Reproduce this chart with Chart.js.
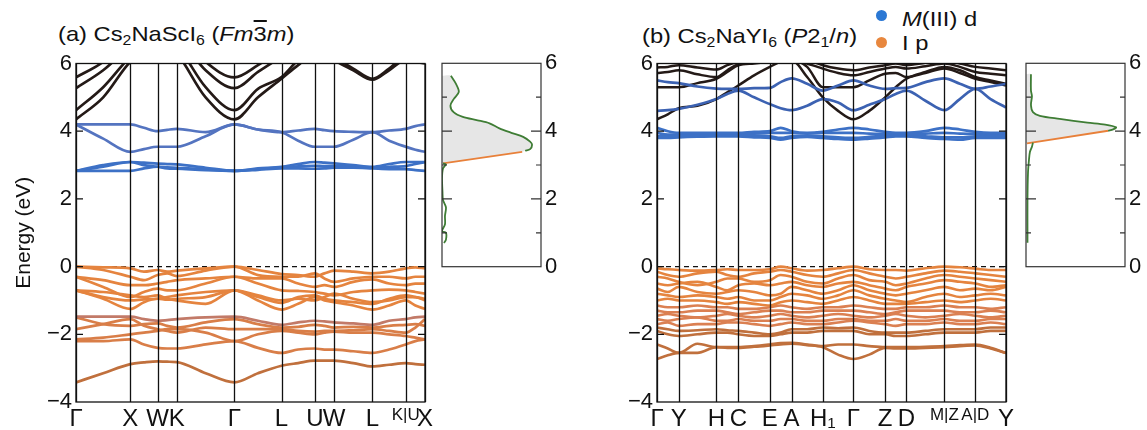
<!DOCTYPE html>
<html>
<head>
<meta charset="utf-8">
<script src="https://cdn.jsdelivr.net/npm/chart.js@4.4.0/dist/chart.umd.min.js"></script>
<style>
  body { margin: 0; background: #fff; width: 1147px; height: 430px; position: relative; overflow: hidden;
         font-family: "Liberation Sans", Arial, sans-serif; color: #111; }
  canvas { position: absolute; top: 0; }
  .t { position: absolute; font-size: 21px; line-height: 1; white-space: nowrap;
       transform-origin: 0 50%; transform: scaleX(1.13); }
  .t sub { font-size: 14px; vertical-align: -0.3em; line-height: 0; }
  .ob { text-decoration: overline; }
  .dot { position: absolute; width: 11px; height: 11px; border-radius: 50%; }
</style>
</head>
<body>
<div class="t" style="left:58px;top:23px">(a) Cs<sub>2</sub>NaScI<sub>6</sub> (<i>Fm</i><span class="ob">3</span><i>m</i>)</div>
<div class="t" style="left:642px;top:25px">(b) Cs<sub>2</sub>NaYI<sub>6</sub> (<i>P</i>2<sub>1</sub>/<i>n</i>)</div>
<div class="dot" style="left:876px;top:10px;background:#2b78d4"></div>
<div class="t" style="left:902px;top:8px"><i>M</i>(III) d</div>
<div class="dot" style="left:876px;top:37px;background:#e8873e"></div>
<div class="t" style="left:902px;top:32px">I p</div>

<canvas id="bandA" width="440" height="430" style="left:0px"></canvas>
<canvas id="dosA" width="126" height="430" style="left:437px"></canvas>
<canvas id="bandB" width="440" height="430" style="left:581px"></canvas>
<canvas id="dosB" width="126" height="430" style="left:1021px"></canvas>

<script>
// ---------- (a) Cs2NaScI6 : k-path and bands ----------
const kA = [0, 0.5, 1.0, 1.25, 1.5, 1.677, 1.854, 2.384, 2.914, 3.347, 3.78, 4.086, 4.392, 4.569, 4.746, 5.1, 5.453, 5.759, 6.065, 6.242, 6.419];
const kTicksA = [0, 1.0, 1.5, 1.854, 2.914, 3.78, 4.392, 4.746, 5.453, 6.065, 6.419];
const kLabelsA = ['Γ', 'X', 'W', 'K', 'Γ', 'L', 'U', 'W', 'L', 'K|U', 'X'];

const blackA = [
  [4.35, 5.0, 6.05, 6.3, 6.5, 6.5, 6.3, 5.0, 4.35, 5.0, 5.55, 5.95, 6.3, 6.3, 6.1, 5.8, 5.52, 5.8, 6.1, 6.05, 6.0],
  [4.62, 5.3, 6.2, 6.5, 6.6, 6.6, 6.5, 5.3, 4.62, 5.25, 5.6, 6.1, 6.4, 6.4, 6.2, 5.85, 5.55, 5.85, 6.2, 6.15, 6.1],
  [5.27, 5.8, 6.5, 6.7, 6.9, 6.9, 6.8, 5.8, 5.27, 5.75, 6.2, 6.5, 6.7, 6.7, 6.6, 6.3, 6.1, 6.3, 6.5, 6.5, 6.5],
  [5.59, 6.05, 6.8, 7.0, 7.0, 7.0, 7.0, 6.05, 5.59, 5.95, 6.4, 6.7, 7.0, 7.0, 6.8, 6.5, 6.3, 6.5, 6.8, 6.8, 6.8]
];
const blueUpperA = [
  [4.20, 4.20, 4.20, 4.10, 4.00, 4.04, 4.07, 3.97, 4.20, 4.05, 3.97, 4.02, 4.07, 4.03, 4.00, 3.98, 3.97, 4.02, 4.07, 4.15, 4.20],
  [4.20, 3.78, 3.39, 3.47, 3.54, 3.54, 3.54, 3.85, 4.20, 4.05, 3.97, 3.72, 3.54, 3.54, 3.54, 3.75, 3.97, 3.72, 3.54, 3.45, 3.39]
];
const blueLowerA = [
  [2.83, 3.0, 3.09, 3.07, 3.04, 3.03, 3.02, 2.92, 2.83, 2.9, 2.95, 3.03, 3.09, 3.07, 3.05, 3.0, 2.95, 3.03, 3.09, 3.09, 3.09],
  [2.83, 2.83, 2.83, 2.9, 2.95, 2.93, 2.92, 2.87, 2.83, 2.86, 2.9, 2.9, 2.89, 2.9, 2.92, 2.92, 2.9, 2.88, 2.88, 2.85, 2.83],
  [2.83, 2.95, 3.09, 3.0, 2.95, 2.9, 2.89, 2.85, 2.83, 2.88, 2.93, 2.96, 2.98, 2.97, 2.97, 2.95, 2.93, 2.95, 2.97, 3.03, 3.09]
];
const valenceTopA = [
  [0, -0.02, -0.05, -0.15, -0.1, -0.15, -0.12, -0.05, 0, -0.1, -0.22, -0.25, -0.3, -0.2, -0.12, -0.15, -0.2, -0.15, -0.05, -0.02, -0.05],
  [0, -0.1, -0.3, -0.4, -0.25, -0.2, -0.28, -0.12, 0, -0.25, -0.3, -0.3, -0.2, -0.35, -0.45, -0.35, -0.3, -0.3, -0.35, -0.3, -0.3],
  [-0.3, -0.4, -0.55, -0.55, -0.5, -0.45, -0.4, -0.35, -0.3, -0.35, -0.35, -0.5, -0.6, -0.55, -0.6, -0.45, -0.38, -0.5, -0.55, -0.5, -0.5],
  [-0.3, -0.6, -0.9, -0.75, -0.65, -0.7, -0.7, -0.5, -0.3, -0.5, -0.7, -0.72, -0.75, -0.8, -0.85, -0.75, -0.7, -0.68, -0.7, -0.75, -0.8],
  [-0.7, -0.75, -0.85, -0.9, -0.85, -0.95, -1.0, -1.1, -0.7, -0.9, -1.07, -0.9, -0.85, -0.95, -1.0, -1.05, -1.1, -0.95, -0.85, -0.9, -0.95],
  [-0.7, -0.95, -1.25, -1.05, -0.95, -0.98, -0.95, -0.9, -0.7, -1.0, -1.27, -1.1, -0.9, -1.0, -1.05, -1.15, -1.27, -1.15, -1.0, -1.15, -1.25],
  [-0.7, -0.9, -1.0, -0.97, -0.95, -0.9, -0.85, -0.75, -0.7, -0.85, -1.0, -0.95, -1.0, -0.9, -0.8, -0.95, -1.05, -1.0, -0.9, -0.9, -1.0]
];
const valenceMidA = [
  [-1.48, -1.48, -1.48, -1.55, -1.6, -1.58, -1.55, -1.5, -1.48, -1.6, -1.72, -1.65, -1.6, -1.62, -1.65, -1.68, -1.72, -1.6, -1.55, -1.5, -1.48],
  [-1.5, -1.7, -1.75, -1.7, -1.68, -1.75, -1.8, -1.65, -1.55, -1.7, -1.8, -1.78, -1.72, -1.75, -1.8, -1.78, -1.8, -1.75, -1.72, -1.7, -1.75],
  [-1.85, -1.7, -1.55, -1.75, -1.85, -1.9, -1.95, -1.8, -1.85, -1.85, -1.85, -1.9, -1.92, -1.9, -1.9, -1.88, -1.85, -1.9, -1.95, -1.8, -1.55],
  [-2.15, -2.1, -2.0, -1.95, -1.9, -1.85, -1.85, -1.95, -2.2, -2.0, -1.9, -1.95, -2.0, -1.95, -1.92, -1.95, -1.95, -2.0, -2.05, -2.1, -2.15],
  [-2.2, -2.2, -2.15, -2.3, -2.4, -2.42, -2.42, -2.3, -2.2, -2.4, -2.55, -2.45, -2.42, -2.45, -2.45, -2.5, -2.55, -2.45, -2.3, -2.2, -2.15]
];
const valenceLowA = [
  [-3.42, -3.15, -2.88, -2.83, -2.8, -2.81, -2.82, -3.15, -3.42, -3.15, -2.93, -2.85, -2.78, -2.78, -2.78, -2.85, -2.95, -2.9, -2.85, -2.88, -2.9]
];

// ---------- (b) Cs2NaYI6 : k-path and bands ----------
const kB = [0, 0.108, 0.217, 0.405, 0.594, 0.704, 0.814, 0.972, 1.13, 1.238, 1.347, 1.503, 1.66, 1.813, 1.967, 2.125, 2.284, 2.39, 2.497, 2.687, 2.877, 3.032, 3.187, 3.34, 3.494];
const kTicksB = [0, 0.217, 0.594, 0.814, 1.13, 1.347, 1.66, 1.967, 2.284, 2.497, 2.877, 3.187, 3.494];
const kLabelsB = ['Γ', 'Y', 'H', 'C', 'E', 'A', 'H₁', 'Γ', 'Z', 'D', 'M|Z', 'A|D', 'Y'];

const blackB = [
  [4.35, 4.5, 4.68, 4.75, 4.95, 5.15, 5.35, 5.65, 5.9, 6.05, 6.1, 5.6, 5.0, 4.6, 4.35, 4.6, 5.0, 5.3, 5.55, 5.75, 5.9, 5.8, 5.6, 5.5, 5.4],
  [5.3, 5.3, 5.3, 5.42, 5.55, 5.75, 5.95, 6.0, 6.05, 6.1, 6.1, 5.9, 5.3, 5.3, 5.3, 5.5, 5.7, 5.72, 5.6, 5.72, 5.85, 5.72, 5.55, 5.45, 5.35],
  [5.72, 5.75, 5.8, 5.68, 5.6, 5.8, 5.98, 6.05, 6.1, 6.15, 6.15, 6.0, 5.85, 5.72, 5.65, 5.75, 5.85, 5.9, 5.85, 5.92, 6.0, 5.9, 5.75, 5.7, 5.65],
  [5.88, 5.9, 5.95, 5.88, 5.82, 5.95, 6.05, 6.15, 6.2, 6.2, 6.2, 6.1, 5.95, 5.85, 5.8, 5.88, 5.95, 6.0, 5.95, 6.02, 6.08, 6.0, 5.9, 5.85, 5.8]
];
const blueUpperB = [
  [5.5, 5.45, 5.42, 5.32, 5.26, 5.25, 5.25, 5.27, 5.28, 5.45, 5.56, 5.4, 5.2, 5.35, 5.5, 5.35, 5.25, 5.27, 5.28, 5.45, 5.56, 5.4, 5.25, 5.32, 5.4],
  [4.6, 4.62, 4.66, 4.78, 4.95, 5.1, 5.2, 5.0, 4.8, 4.68, 4.62, 4.75, 4.95, 4.85, 4.62, 4.78, 4.95, 5.1, 5.2, 4.9, 4.62, 4.95, 5.25, 4.95, 4.7]
];
const blueFlatB = [
  [4.1, 4.0, 3.95, 3.95, 3.95, 3.95, 3.95, 3.98, 4.0, 4.1, 4.0, 3.95, 3.98, 4.05, 4.1, 4.05, 3.98, 3.95, 3.95, 4.0, 4.1, 4.05, 3.98, 3.95, 3.95],
  [3.95, 3.9, 3.9, 3.9, 3.92, 3.93, 3.93, 3.93, 3.95, 3.95, 3.95, 3.93, 3.95, 3.95, 3.95, 3.93, 3.92, 3.92, 3.92, 3.93, 3.95, 3.93, 3.92, 3.9, 3.9],
  [3.85, 3.85, 3.87, 3.88, 3.88, 3.88, 3.88, 3.87, 3.85, 3.8, 3.85, 3.87, 3.85, 3.82, 3.8, 3.83, 3.87, 3.88, 3.88, 3.85, 3.82, 3.82, 3.85, 3.85, 3.85],
  [3.8, 3.8, 3.82, 3.84, 3.85, 3.85, 3.85, 3.82, 3.8, 3.75, 3.8, 3.83, 3.8, 3.77, 3.75, 3.78, 3.82, 3.85, 3.85, 3.8, 3.77, 3.75, 3.8, 3.8, 3.8]
];
const valenceTopB = [
  [-0.05, -0.08, -0.1, -0.12, -0.1, -0.08, -0.1, -0.1, -0.08, 0.0, -0.05, -0.12, -0.1, -0.05, 0.0, -0.08, -0.1, -0.1, -0.12, -0.05, 0.0, -0.02, -0.06, -0.1, -0.1],
  [-0.15, -0.25, -0.3, -0.2, -0.15, -0.25, -0.3, -0.2, -0.15, -0.1, -0.15, -0.25, -0.3, -0.2, -0.1, -0.2, -0.3, -0.35, -0.3, -0.2, -0.12, -0.15, -0.2, -0.25, -0.3],
  [-0.3, -0.35, -0.45, -0.55, -0.45, -0.35, -0.35, -0.45, -0.4, -0.25, -0.3, -0.45, -0.5, -0.35, -0.25, -0.4, -0.45, -0.55, -0.5, -0.35, -0.25, -0.3, -0.35, -0.4, -0.45],
  [-0.5, -0.55, -0.5, -0.45, -0.6, -0.7, -0.55, -0.5, -0.55, -0.5, -0.45, -0.55, -0.6, -0.5, -0.45, -0.55, -0.65, -0.7, -0.6, -0.5, -0.4, -0.45, -0.5, -0.6, -0.55],
  [-0.65, -0.75, -0.6, -0.75, -0.8, -0.75, -0.7, -0.75, -0.85, -0.8, -0.6, -0.7, -0.8, -0.7, -0.55, -0.7, -0.8, -0.85, -0.8, -0.7, -0.6, -0.7, -0.65, -0.7, -0.6],
  [-0.8, -0.85, -0.9, -0.85, -0.9, -0.95, -0.9, -1.0, -1.0, -0.9, -0.8, -0.85, -0.95, -0.85, -0.7, -0.85, -0.95, -1.0, -1.05, -0.9, -0.8, -0.9, -0.85, -0.8, -0.85],
  [-1.0, -0.95, -1.0, -1.0, -1.05, -1.1, -1.05, -1.1, -1.15, -1.05, -1.0, -1.05, -1.1, -1.0, -0.9, -1.0, -1.1, -1.1, -1.1, -1.05, -1.0, -1.05, -1.0, -0.95, -1.0]
];
const valenceMidB = [
  [-1.15, -1.2, -1.2, -1.15, -1.2, -1.2, -1.25, -1.25, -1.2, -1.15, -1.2, -1.25, -1.2, -1.2, -1.15, -1.2, -1.25, -1.25, -1.2, -1.2, -1.15, -1.2, -1.2, -1.25, -1.2],
  [-1.3, -1.35, -1.35, -1.3, -1.3, -1.35, -1.4, -1.35, -1.3, -1.3, -1.35, -1.35, -1.3, -1.3, -1.3, -1.35, -1.4, -1.35, -1.3, -1.3, -1.3, -1.35, -1.35, -1.3, -1.35],
  [-1.45, -1.4, -1.45, -1.5, -1.45, -1.4, -1.45, -1.5, -1.45, -1.4, -1.45, -1.5, -1.45, -1.4, -1.45, -1.5, -1.45, -1.4, -1.45, -1.5, -1.45, -1.4, -1.45, -1.5, -1.45],
  [-1.55, -1.6, -1.55, -1.5, -1.6, -1.6, -1.55, -1.6, -1.6, -1.55, -1.55, -1.6, -1.6, -1.55, -1.55, -1.6, -1.6, -1.55, -1.6, -1.6, -1.55, -1.6, -1.6, -1.55, -1.55],
  [-1.7, -1.65, -1.75, -1.7, -1.7, -1.65, -1.65, -1.7, -1.75, -1.7, -1.65, -1.7, -1.7, -1.65, -1.6, -1.65, -1.7, -1.75, -1.7, -1.7, -1.65, -1.7, -1.7, -1.65, -1.7]
];
const valenceLowB = [
  [-1.8, -1.85, -1.9, -1.88, -1.85, -1.88, -1.9, -1.95, -2.0, -1.95, -1.85, -1.85, -1.8, -1.82, -1.8, -1.9, -1.95, -1.95, -1.95, -1.9, -1.85, -1.85, -1.85, -1.8, -1.8],
  [-1.9, -2.0, -2.05, -2.0, -1.95, -1.95, -2.0, -2.05, -2.05, -2.0, -1.95, -1.95, -1.9, -1.9, -1.9, -2.0, -2.0, -2.05, -2.05, -2.0, -1.95, -1.95, -1.95, -1.9, -1.9],
  [-2.3, -2.42, -2.55, -2.28, -2.38, -2.38, -2.38, -2.35, -2.3, -2.26, -2.25, -2.3, -2.35, -2.3, -2.3, -2.35, -2.38, -2.38, -2.38, -2.37, -2.35, -2.32, -2.3, -2.4, -2.55],
  [-2.73, -2.62, -2.55, -2.55, -2.38, -2.4, -2.4, -2.37, -2.33, -2.3, -2.28, -2.32, -2.38, -2.6, -2.73, -2.6, -2.4, -2.42, -2.42, -2.4, -2.38, -2.35, -2.33, -2.42, -2.55]
];

// ---------- DOS panels (x = DOS, arbitrary units; y = energy) ----------
const dosA_hiDos = [0.09, 0.14, 0.17, 0.12, 0.085, 0.12, 0.21, 0.36, 0.48, 0.58, 0.70, 0.82, 0.89, 0.91, 0.89, 0.84];
const dosA_hiE   = [5.63, 5.40, 5.16, 4.95, 4.75, 4.55, 4.42, 4.32, 4.23, 4.08, 3.95, 3.83, 3.69, 3.60, 3.47, 3.42];
const dosA_orDos = [0.81, 0.01];
const dosA_orE   = [3.39, 3.05];
const dosA_loDos = [0.01, 0.04, 0.01, 0.0, 0.005, 0.01, 0.04, 0.03, 0.03, 0.0, 0.04, 0.04, 0.02];
const dosA_loE   = [3.05, 3.02, 2.9, 2.6, 2.2, 1.97, 1.75, 1.5, 1.25, 1.05, 1.0, 0.8, 0.7];

const dosB_hiDos = [0.05, 0.05, 0.06, 0.05, 0.07, 0.14, 0.34, 0.62, 0.80, 0.91, 0.88, 0.83];
const dosB_hiE   = [5.68, 5.2, 5.03, 4.77, 4.56, 4.45, 4.36, 4.25, 4.19, 4.11, 4.05, 4.01];
const dosB_orDos = [0.83, 0.01];
const dosB_orE   = [4.01, 3.64];
const dosB_loDos = [0.07, 0.06, 0.04, 0.03, 0.02, 0.015, 0.015, 0.015];
const dosB_loE   = [3.66, 3.54, 3.39, 3.15, 2.76, 1.97, 0.99, 0.71];

const FONT = '"Liberation Sans", Arial, sans-serif';

// frame, inward ticks and high-symmetry lines, all placed through the chart scales
const framePlugin = {
  id: 'frame',
  afterDatasetsDraw(chart, args, opts) {
    const { ctx, chartArea: a, scales } = chart;
    ctx.save();
    ctx.strokeStyle = opts.color;
    ctx.lineWidth = opts.lineWidth;
    ctx.beginPath();
    (opts.vlines || []).forEach(v => {
      const x = Math.round(scales.x.getPixelForValue(v)) + 0.5;
      ctx.moveTo(x, a.top); ctx.lineTo(x, a.bottom);
    });
    const tick = (list, len) => (list || []).forEach(v => {
      const y = scales.y.getPixelForValue(v);
      ctx.moveTo(a.left, y); ctx.lineTo(a.left + len, y);
      ctx.moveTo(a.right, y); ctx.lineTo(a.right - len, y);
    });
    tick(opts.major, opts.majorLen);
    tick(opts.minor, opts.minorLen);
    ctx.stroke();
    ctx.strokeRect(a.left, a.top, a.right - a.left, a.bottom - a.top);
    ctx.restore();
  }
};

function bandSet(k, e, color, w) {
  return {
    data: k.map((x, i) => ({ x: x, y: e[i] })),
    borderColor: color, borderWidth: w || 2.7, pointRadius: 0,
    cubicInterpolationMode: 'monotone', fill: false, clip: 0
  };
}

function zeroLine(k) {
  return {
    data: [{ x: k[0], y: 0 }, { x: k[k.length - 1], y: 0 }],
    borderColor: '#111', borderWidth: 1.3, borderDash: [5, 4], pointRadius: 0, fill: false
  };
}

function minusFmt(v) { return v < 0 ? '\u2212' + (-v) : '' + v; }

function bandChart(id, k, ticks, labels, datasets, yTitle) {
  new Chart(document.getElementById(id), {
    type: 'line',
    data: { datasets: datasets },
    plugins: [framePlugin],
    options: {
      responsive: false, animation: false, events: [],
      layout: { padding: { top: 63.5, right: 15, left: 0, bottom: 0 } },
      plugins: {
        legend: { display: false }, tooltip: { enabled: false },
        frame: { color: '#111', lineWidth: 1.3, vlines: ticks, major: [-2, 0, 2, 4], majorLen: 7 }
      },
      scales: {
        x: {
          type: 'linear', min: k[0], max: k[k.length - 1],
          afterBuildTicks: s => { s.ticks = ticks.map(v => ({ value: v })); },
          afterFit: s => { s.height = 28; },
          grid: { display: false, drawTicks: false }, border: { display: false },
          ticks: {
            autoSkip: false, maxRotation: 0, padding: 3, color: '#111',
            font: ctx => ({ family: FONT, size: String(labels[ctx.index] || '').includes('|') ? 17 : 24 }),
            callback: (v, i) => labels[i]
          }
        },
        y: {
          min: -4, max: 6,
          afterFit: s => { s.width = 76; },
          grid: { display: false, drawTicks: false }, border: { display: false },
          ticks: { stepSize: 2, padding: 4, color: '#111', font: { family: FONT, size: 22 }, callback: minusFmt },
          title: { display: !!yTitle, text: yTitle || '', color: '#111', font: { family: FONT, size: 21 }, padding: { top: 12, bottom: 0 } }
        }
      }
    }
  });
}

function pts(xs, ys) { return xs.map((x, i) => ({ x: x, y: ys[i] })); }

function dosChart(id, hiDos, hiE, orDos, orE, loDos, loE) {
  const hi = pts(hiDos, hiE), or = pts(orDos, orE), lo = pts(loDos, loE);
  const shape = [{ x: 0, y: hiE[0] }].concat(hi, or, [{ x: 0, y: orE[orE.length - 1] }]);
  new Chart(document.getElementById(id), {
    type: 'line',
    data: {
      datasets: [
        { data: hi, borderColor: '#3f7d35', borderWidth: 1.8, pointRadius: 0, tension: 0.3, fill: false },
        { data: lo, borderColor: '#3f7d35', borderWidth: 1.8, pointRadius: 0, tension: 0.3, fill: false },
        { data: or, borderColor: '#e8803a', borderWidth: 1.8, pointRadius: 0, fill: false },
        { data: shape, borderWidth: 0, borderColor: 'rgba(0,0,0,0)', backgroundColor: '#e6e6e6', pointRadius: 0, tension: 0.3, fill: 'shape' }
      ]
    },
    plugins: [framePlugin],
    options: {
      responsive: false, animation: false, events: [],
      layout: { padding: { top: 63.3, bottom: 163.3, left: 5, right: 0 } },
      plugins: {
        legend: { display: false }, tooltip: { enabled: false },
        frame: { color: '#333', lineWidth: 1.2, major: [2, 4], majorLen: 10, minor: [1, 3, 5], minorLen: 5 }
      },
      scales: {
        x: { type: 'linear', min: 0, max: 1, display: false },
        y: {
          position: 'right', min: 0, max: 6,
          afterFit: s => { s.width = 22; },
          grid: { display: false, drawTicks: false }, border: { display: false },
          ticks: { stepSize: 2, padding: 4, color: '#111', font: { family: FONT, size: 22 } }
        }
      }
    }
  });
}

// colours
const cBlack = '#241a17', cBlue = '#3d71c6', cBlueLight = '#5474c0', cOrange = '#e5843f',
      cOrangeMid = '#d97e48', cPink = '#c27a68', cBrown = '#c0703d';

const setsA = []
  .concat(blueUpperA.map(e => bandSet(kA, e, cBlueLight)))
  .concat(blueLowerA.map(e => bandSet(kA, e, cBlue)))
  .concat(valenceTopA.map(e => bandSet(kA, e, cOrange)))
  .concat(valenceMidA.map((e, i) => bandSet(kA, e, i === 0 ? cPink : cOrangeMid)))
  .concat(valenceLowA.map(e => bandSet(kA, e, cBrown)))
  .concat(blackA.map(e => bandSet(kA, e, cBlack)))
  .concat([zeroLine(kA)]);

const setsB = []
  .concat(blueFlatB.map(e => bandSet(kB, e, cBlue)))
  .concat(blueUpperB.map(e => bandSet(kB, e, '#3c62b2')))
  .concat(valenceTopB.map(e => bandSet(kB, e, cOrange, 2.6)))
  .concat(valenceMidB.map(e => bandSet(kB, e, '#db8052', 2.6)))
  .concat(valenceLowB.map(e => bandSet(kB, e, cBrown, 2.6)))
  .concat(blackB.map(e => bandSet(kB, e, cBlack, 2.5)))
  .concat([zeroLine(kB)]);

bandChart('bandA', kA, kTicksA, kLabelsA, setsA, 'Energy (eV)');
bandChart('bandB', kB, kTicksB, kLabelsB, setsB, null);
dosChart('dosA', dosA_hiDos, dosA_hiE, dosA_orDos, dosA_orE, dosA_loDos, dosA_loE);
dosChart('dosB', dosB_hiDos, dosB_hiE, dosB_orDos, dosB_orE, dosB_loDos, dosB_loE);
</script>
</body>
</html>
